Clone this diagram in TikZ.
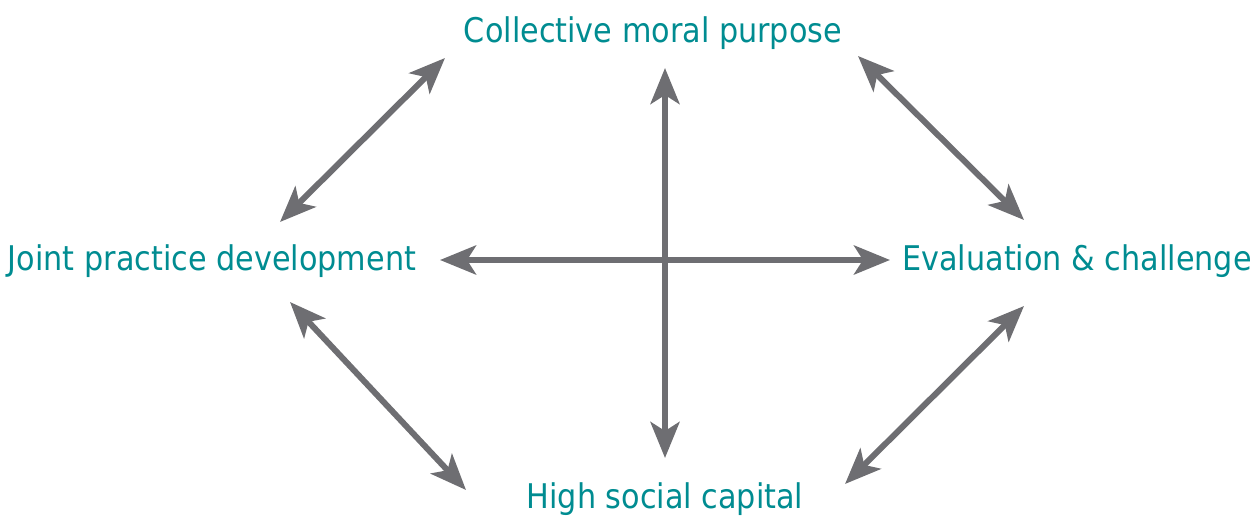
\documentclass[tikz,border=0pt]{standalone}
\usepackage{fontspec}
\setmainfont{DejaVu Sans}[FakeStretch=0.89]
\usetikzlibrary{arrows.meta}
\definecolor{Teal}{RGB}{0,140,145}
\definecolor{Arrowgrey}{RGB}{110,110,114}
\tikzset{
  label/.style={text=Teal,font=\fontsize{34}{38}\selectfont,inner sep=0pt},
  link/.style={line width=6pt,color=Arrowgrey,
    {Stealth[length=36pt,width=29pt,inset=9pt]}-{Stealth[length=36pt,width=29pt,inset=9pt]}}
}
\begin{document}
\begin{tikzpicture}[x=1pt,y=-1pt]
\useasboundingbox (0,0) rectangle (1260,518);
%% The four labels
\node[label] (cmp) at (653,33) {Collective moral purpose};
\node[label] (jpd) at (212,261) {Joint practice development};
\node[label] (eac) at (1077,261) {Evaluation \& challenge};
\node[label] (hsc) at (665,499) {High social capital};

%% Arrow ends
\coordinate (vt) at (665,68);
\coordinate (vb) at (665,458);
\coordinate (hl) at (440,260);
\coordinate (hr) at (890,260);

%% Arrows
\draw[link] (vt) -- (vb);
\draw[link] (hl) -- (hr);
\draw[link] (445,58) -- (280,222);
\draw[link] (858,56) -- (1024,220);
\draw[link] (290,302) -- (466,490);
\draw[link] (1024,306) -- (845,484);
\end{tikzpicture}
\end{document}
